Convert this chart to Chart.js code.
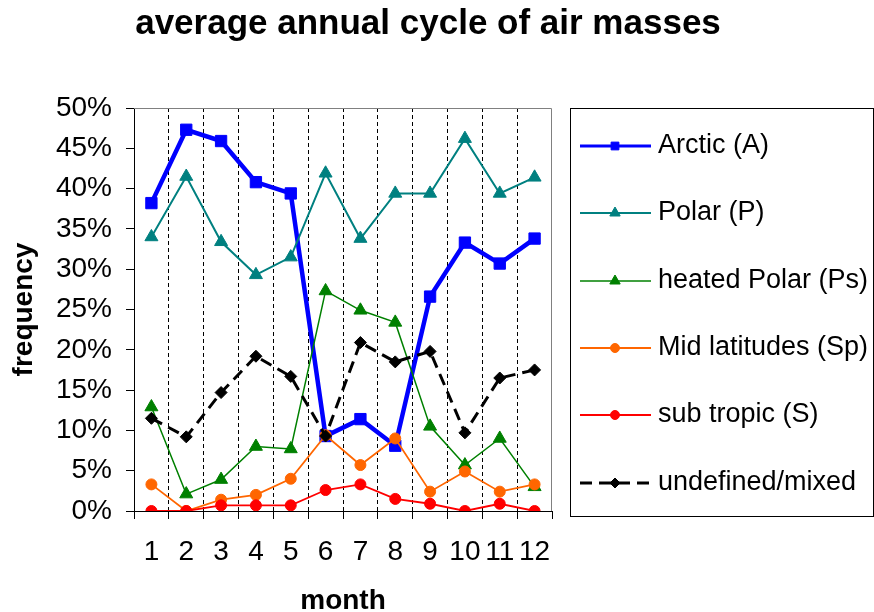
<!DOCTYPE html>
<html>
<head>
<meta charset="utf-8">
<script src="https://cdn.jsdelivr.net/npm/chart.js@4/dist/chart.umd.min.js"></script>
<style>
html,body{margin:0;padding:0;background:#fff;}
#wrap{width:874px;height:612px;}
</style>
</head>
<body>
<div id="wrap"><canvas id="c" width="874" height="612"></canvas></div>
<script>
// ---- data ----
const months = ['1','2','3','4','5','6','7','8','9','10','11','12'];
const seriesNames = ['Arctic (A)','Polar (P)','heated Polar (Ps)','Mid latitudes (Sp)','sub tropic (S)','undefined/mixed'];
const arctic         = [38.2,47.3,45.9,40.8,39.4, 9.3,11.4, 8.1,26.6,33.3,30.7,33.8];
const polar          = [34.0,41.5,33.4,29.3,31.5,41.9,33.8,39.4,39.4,46.2,39.4,41.4];
const heatedPolar    = [12.9, 2.1, 3.9, 8.0, 7.7,27.3,24.9,23.4,10.5, 5.7, 9.0, 3.0];
const midLatitudes   = [ 3.3, 0.0, 1.4, 2.0, 4.0, 9.4, 5.7, 9.0, 2.4, 4.9, 2.4, 3.3];
const subTropic      = [ 0.0, 0.0, 0.7, 0.7, 0.7, 2.6, 3.3, 1.5, 0.9, 0.0, 0.9, 0.0];
const undefinedMixed = [11.5, 9.2,14.7,19.2,16.7, 9.3,20.9,18.5,19.8, 9.7,16.5,17.5];
const yMin = 0, yMax = 50, yStep = 5;

const FAM = '"Liberation Sans", Arial, Helvetica, sans-serif';

function mk(label, data, color, style, radius, width, legendRadius, order, dash) {
  return {
    label, data,
    borderColor: color, backgroundColor: color,
    pointBackgroundColor: color, pointBorderColor: color,
    pointStyle: style, pointRadius: radius, pointBorderWidth: 1,
    borderWidth: width, borderDash: dash || [],
    tension: 0, fill: false, order,
    legendRadius
  };
}

const datasets = [
  mk(seriesNames[0], arctic,         '#0000FF', 'rect',      8,   4.5, 5.5, 5),
  mk(seriesNames[1], polar,          '#008080', 'triangle',  7.5, 2,   6,   4),
  mk(seriesNames[2], heatedPolar,    '#008000', 'triangle',  7.5, 1.5, 6,   3),
  mk(seriesNames[3], midLatitudes,   '#FF6600', 'circle',    5.5, 1.8, 4.5, 2),
  mk(seriesNames[4], subTropic,      '#FF0000', 'circle',    5.5, 1.8, 4.5, 1),
  mk(seriesNames[5], undefinedMixed, '#000000', 'rectRot',   6,   3,   5,   0, [12,7])
];

const frame = {
  id: 'frame',
  beforeDatasetsDraw(chart) {
    const {ctx, chartArea: a} = chart;
    ctx.save();
    ctx.strokeStyle = '#808080';
    ctx.lineWidth = 1;
    const t = Math.round(a.top) + 0.5, r = Math.round(a.right) - 0.5;
    ctx.beginPath();
    ctx.moveTo(a.left, t);
    ctx.lineTo(r, t);
    ctx.lineTo(r, a.bottom);
    ctx.stroke();
    ctx.restore();
  }
};

const boxLegend = {
  id: 'boxLegend',
  afterDraw(chart) {
    const {ctx, chartArea: a} = chart;
    const rs = chart.scales.yR;
    const L = Math.round(rs.left) + 18, T = Math.round(a.top), R = chart.width - 1, B = Math.round(a.bottom) + 5;
    ctx.save();
    ctx.strokeStyle = '#000';
    ctx.lineWidth = 1;
    ctx.strokeRect(L + 0.5, T + 0.5, R - L, B - T);
    chart.data.datasets.forEach((ds, i) => {
      const y = Math.round(T + 38 + i * 67.3);
      ctx.save();
      ctx.strokeStyle = ds.borderColor;
      ctx.lineWidth = Math.min(ds.borderWidth, 3);
      ctx.setLineDash(ds.borderDash || []);
      ctx.beginPath();
      ctx.moveTo(L + 10, y);
      ctx.lineTo(L + 81, y);
      ctx.stroke();
      ctx.setLineDash([]);
      ctx.fillStyle = ds.pointBackgroundColor;
      ctx.strokeStyle = ds.pointBorderColor;
      ctx.lineWidth = 1;
      Chart.helpers.drawPoint(ctx, {pointStyle: ds.pointStyle, radius: ds.legendRadius, rotation: 0, borderWidth: 1}, L + 45, y);
      ctx.restore();
      ctx.fillStyle = '#000';
      ctx.font = '27px ' + FAM;
      ctx.textBaseline = 'middle';
      ctx.textAlign = 'left';
      ctx.fillText(ds.label, L + 88, y);
    });
    ctx.restore();
  }
};

new Chart(document.getElementById('c'), {
  type: 'line',
  data: { labels: months, datasets },
  plugins: [frame, boxLegend],
  options: {
    responsive: false,
    animation: false,
    devicePixelRatio: 1,
    layout: { padding: { top: 0, left: 0, right: 18, bottom: -6 } },
    plugins: {
      legend: { display: false },
      tooltip: { enabled: false },
      title: {
        display: true,
        text: 'average annual cycle of air masses',
        color: '#000',
        font: { size: 35, weight: 'bold', family: FAM },
        padding: { top: 3, bottom: 63 }
      }
    },
    scales: {
      x: {
        type: 'category',
        offset: true,
        grid: {
          offset: true,
          drawOnChartArea: true,
          color: c => (c.index === undefined || c.index === 0) ? 'rgba(0,0,0,0)' : '#000',
          lineWidth: 1,
          drawTicks: true,
          tickLength: 8,
          tickColor: '#000',
          tickBorderDash: []
        },
        border: { display: true, color: '#000', width: 1, dash: [4, 3] },
        ticks: { color: '#000', font: { size: 28, family: FAM }, padding: 16, maxRotation: 0, autoSkip: false },
        title: { display: true, text: 'month', color: '#000', font: { size: 28, weight: 'bold', family: FAM }, padding: { top: 0, bottom: 0 } },
        afterFit(s) { s.height = 107; }
      },
      y: {
        position: 'left',
        min: yMin, max: yMax,
        ticks: { stepSize: yStep, callback: v => v + '%', color: '#000', font: { size: 28, family: FAM }, padding: 14 },
        grid: { drawOnChartArea: false, drawTicks: true, tickLength: 8, tickColor: '#000', color: '#000' },
        border: { display: true, color: '#000', width: 1 },
        title: { display: true, text: 'frequency', color: '#000', font: { size: 28, weight: 'bold', family: FAM }, padding: { top: 7, bottom: 0 } },
        afterFit(s) { s.width = 134; }
      },
      yR: {
        position: 'right',
        display: true,
        min: 0, max: 1,
        ticks: { display: false },
        grid: { display: false, drawTicks: false },
        border: { display: false },
        afterFit(s) { s.width = 304; }
      }
    }
  }
});
</script>
</body>
</html>
